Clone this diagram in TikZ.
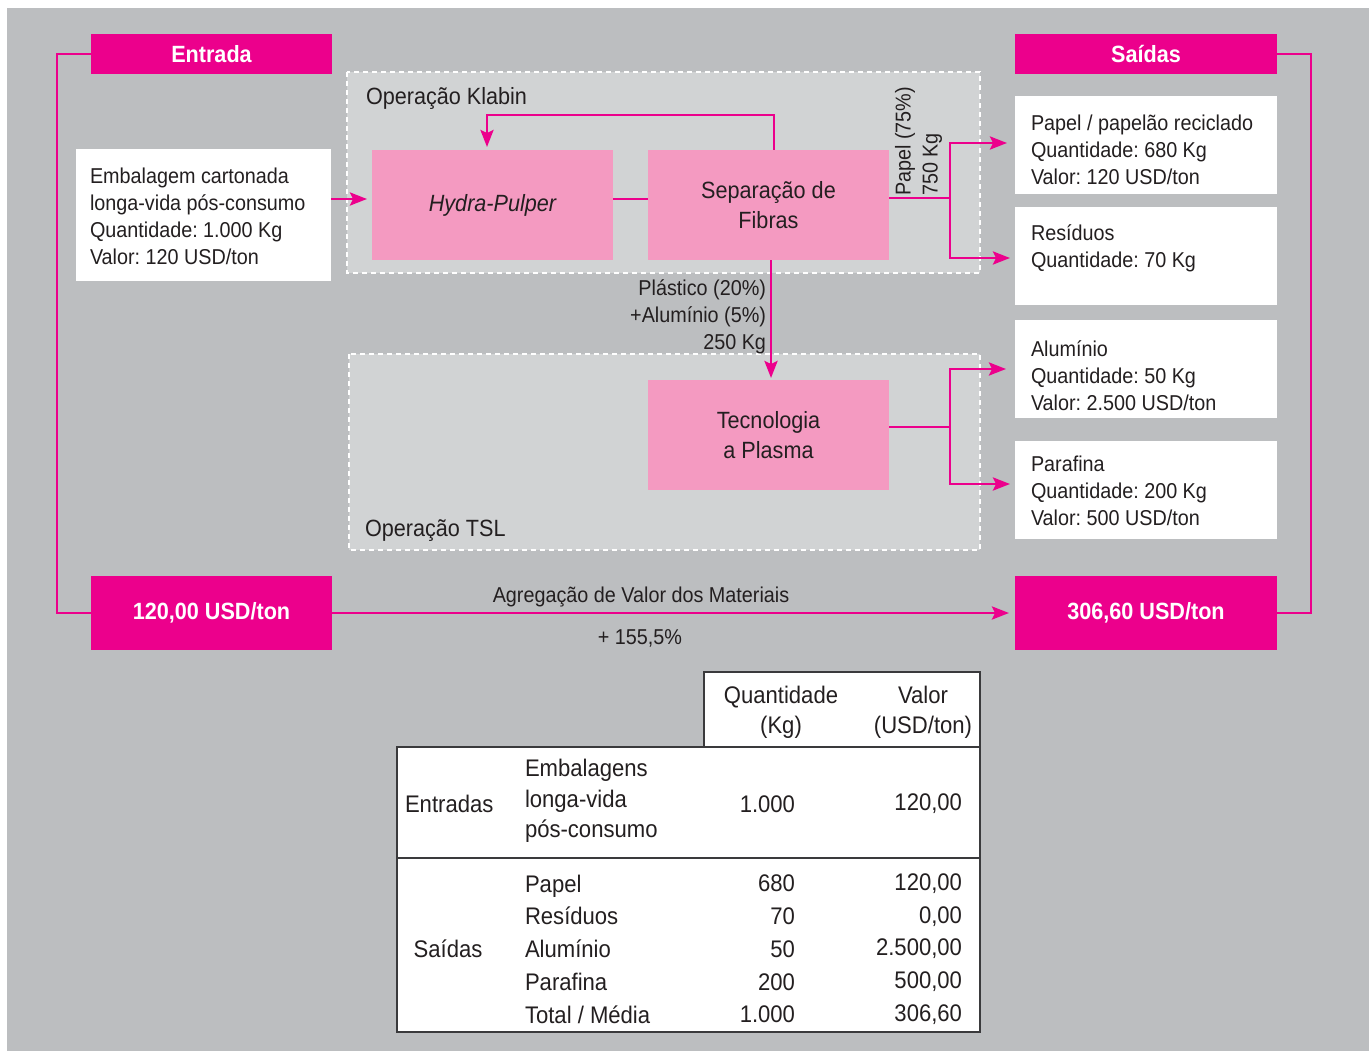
\documentclass[tikz,border=0pt]{standalone}
\usepackage{fontspec}
\setmainfont{Liberation Sans}[FakeStretch=0.92]
\usetikzlibrary{arrows.meta,calc}
\definecolor{mag}{HTML}{EC008C}
\definecolor{pinkbox}{HTML}{F49AC1}
\definecolor{bggray}{HTML}{BCBEC0}
\definecolor{opgray}{HTML}{D1D3D4}
\definecolor{ink}{HTML}{231F20}
\definecolor{rule}{HTML}{3A3A3C}
\frenchspacing
\begin{document}
\begin{tikzpicture}[x=1pt,y=-1pt,
  txt/.style={font=\fontsize{21.5}{27}\selectfont, text=ink, inner sep=0pt, outer sep=0pt, align=left},
  lbl/.style={font=\fontsize{23.5}{30}\selectfont, text=ink, inner sep=0pt, outer sep=0pt},
  tbl/.style={font=\fontsize{24}{32.75}\selectfont, text=ink, inner sep=0pt, outer sep=0pt},
  magbox/.style={fill=mag, text=white, font=\bfseries\fontsize{23.5}{28}\selectfont,
    inner sep=0pt, outer sep=0pt, anchor=north west},
  procbox/.style={fill=pinkbox, text=ink, font=\fontsize{23.5}{30}\selectfont, align=center,
    inner sep=0pt, outer sep=0pt, anchor=north west, minimum width=241, minimum height=110},
  outbox/.style={fill=white, inner sep=0pt, outer sep=0pt, anchor=north west,
    minimum width=262, minimum height=98},
  opzone/.style={fill=opgray, draw=white, line width=1.6pt, dash pattern=on 5pt off 4pt},
  flow/.style={draw=mag, line width=2.8pt},
  arr/.style={flow, -{Stealth[length=17pt,width=13pt,inset=3pt]}},
  tabframe/.style={fill=white, draw=rule, line width=1.3pt}]

\useasboundingbox (0,0) rectangle (1372,1051);
\fill[white] (0,0) rectangle (1372,1051);
\fill[bggray] (7,8) rectangle (1369,1051);

% operation zones
\draw[opzone] (347,72) rectangle (980,273);
\draw[opzone] (349,354) rectangle (980,550);
\node[lbl, anchor=west] (klabin) at (366,98) {Operação Klabin};
\node[lbl, anchor=west] (tsl) at (365,531) {Operação TSL};

% headers and value boxes
\node[magbox, minimum width=241, minimum height=40] (entrada) at (91,34) {Entrada};
\node[magbox, minimum width=262, minimum height=40] (saidas) at (1015,34) {Saídas};
\node[magbox, minimum width=241, minimum height=74] (v120) at (91,576) {120,00 USD/ton};
\node[magbox, minimum width=262, minimum height=74] (v306) at (1015,576) {306,60 USD/ton};

% input box
\node[fill=white, inner sep=0pt, outer sep=0pt, anchor=north west,
      minimum width=255, minimum height=132] (input) at (76,149) {};
\node[txt, anchor=west] (inputtxt) at (90,216)
  {Embalagem cartonada\\longa-vida pós-consumo\\Quantidade: 1.000 Kg\\Valor: 120 USD/ton};

% process boxes
\node[procbox] (hydra) at (372,150) {\itshape Hydra-Pulper};
\node[procbox] (sep) at (648,150) {Separação de\\Fibras};
\node[procbox] (tec) at (648,380) {Tecnologia\\a Plasma};

% output boxes
\node[outbox] (pap) at (1015,96) {};
\node[outbox] (res) at (1015,207) {};
\node[outbox] (alu) at (1015,320) {};
\node[outbox] (par) at (1015,441) {};
\node[txt, anchor=west] (paptxt) at (1031,150)
  {Papel / papelão reciclado\\Quantidade: 680 Kg\\Valor: 120 USD/ton};
\node[txt, anchor=west] (restxt) at (1031,248.5)
  {Resíduos\\Quantidade: 70 Kg};
\node[txt, anchor=west] (alutxt) at (1031,376)
  {Alumínio\\Quantidade: 50 Kg\\Valor: 2.500 USD/ton};
\node[txt, anchor=west] (partxt) at (1031,491)
  {Parafina\\Quantidade: 200 Kg\\Valor: 500 USD/ton};

% flow labels
\node[txt, anchor=center, rotate=90] (papflow) at (918.5,141.5) {Papel (75\%)\\750 Kg};
\node[txt, anchor=east, align=right] (plastflow) at (766,317)
  {Plástico (20\%)\\+Alumínio (5\%)\\250 Kg};
\node[txt, anchor=center] (agreg) at (641,597) {Agregação de Valor dos Materiais};
\node[txt, anchor=center] (ganho) at (640,638) {+ 155,5\%};

% connectors
\coordinate (hpin) at (367,199);
\draw[arr] (input.east |- hpin) -- (hpin);
\draw[flow] (hydra.east |- hpin) -- (sep.west |- hpin);
\draw[arr] (sep.north -| 774,0) -- (774,115) -| ($(hydra.north -| 487,0)+(0,-3)$);
\draw[arr] (sep.south -| 771,0) -- ($(tec.north -| 771,0)+(0,-2)$);

\coordinate (pbr) at (950,198);
\draw[flow] (sep.east |- pbr) -- (pbr);
\draw[arr] (pbr) |- ($(pap.west |- 0,143)+(-8,0)$);
\draw[arr] (pbr) |- ($(res.west |- 0,258)+(-5,0)$);

\coordinate (tbr) at (950,427);
\draw[flow] (tec.east |- tbr) -- (tbr);
\draw[arr] (tbr) |- ($(alu.west |- 0,369)+(-9,0)$);
\draw[arr] (tbr) |- ($(par.west |- 0,484)+(-5,0)$);

\draw[flow] (entrada.west) -- ++(-34,0) |- (v120.west);
\draw[flow] (saidas.east) -- ++(34,0) |- (v306.east);
\draw[arr] (v120.east) -- ($(v306.west)+(-6,0)$);

% summary table
\draw[tabframe] (704,672) rectangle (980,747);
\draw[tabframe] (397,747) rectangle (980,1032);
\draw[draw=rule, line width=1.3pt] (397,858) -- (980,858);

\node[tbl, align=center, font=\fontsize{24}{30}\selectfont] (hq) at (781,712) {Quantidade\\(Kg)};
\node[tbl, align=center, font=\fontsize{24}{30}\selectfont] (hv) at (923,712) {Valor\\(USD/ton)};

\node[tbl, anchor=west] (ent) at (405,804) {Entradas};
\node[tbl, anchor=west, align=left, font=\fontsize{24}{30.5}\selectfont] (entname) at (525,801)
  {Embalagens\\longa-vida\\pós-consumo};
\node[tbl, anchor=east] (entq) at (795,804) {1.000};
\node[tbl, anchor=east] (entv) at (962,804) {120,00};

\node[tbl] (sai) at (448,949) {Saídas};
\node[tbl, anchor=west, align=left] (sainame) at (525,949)
  {Papel\\Resíduos\\Alumínio\\Parafina\\Total / Média};
\node[tbl, anchor=east, align=right] (saiq) at (795,949)
  {680\\70\\50\\200\\1.000};
\node[tbl, anchor=east, align=right] (saiv) at (962,949)
  {120,00\\0,00\\2.500,00\\500,00\\306,60};
\end{tikzpicture}
\end{document}
